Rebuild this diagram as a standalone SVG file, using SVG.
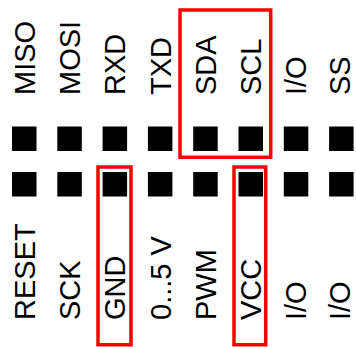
<svg xmlns="http://www.w3.org/2000/svg" width="356" height="347" viewBox="0 0 356 347">
<style>
.lbl{font-family:"Liberation Sans",Arial,sans-serif;font-size:29px;fill:#000}
.pin{fill:#000}
.hl{fill:none;stroke:#f00;stroke-width:3.5}
</style>
<rect width="356" height="347" fill="#fff"/>
<g id="pins-top">
<rect class="pin" x="12" y="126.5" width="24.5" height="24.5"/>
<rect class="pin" x="57.3" y="126.5" width="24.5" height="24.5"/>
<rect class="pin" x="102.6" y="126.5" width="24.5" height="24.5"/>
<rect class="pin" x="147.9" y="126.5" width="24.5" height="24.5"/>
<rect class="pin" x="193.2" y="126.5" width="24.5" height="24.5"/>
<rect class="pin" x="238.5" y="126.5" width="24.5" height="24.5"/>
<rect class="pin" x="283.8" y="126.5" width="24.5" height="24.5"/>
<rect class="pin" x="329.1" y="126.5" width="24.5" height="24.5"/>
</g>
<g id="pins-bottom">
<rect class="pin" x="12" y="172" width="24.5" height="24.5"/>
<rect class="pin" x="57.3" y="172" width="24.5" height="24.5"/>
<rect class="pin" x="102.6" y="172" width="24.5" height="24.5"/>
<rect class="pin" x="147.9" y="172" width="24.5" height="24.5"/>
<rect class="pin" x="193.2" y="172" width="24.5" height="24.5"/>
<rect class="pin" x="238.5" y="172" width="24.5" height="24.5"/>
<rect class="pin" x="283.8" y="172" width="24.5" height="24.5"/>
<rect class="pin" x="329.1" y="172" width="24.5" height="24.5"/>
</g>
<g id="labels-top">
<text class="lbl" transform="translate(34.6,95) rotate(-90)">MISO</text>
<text class="lbl" transform="translate(79.9,95) rotate(-90)">MOSI</text>
<text class="lbl" transform="translate(125.2,95) rotate(-90)">RXD</text>
<text class="lbl" transform="translate(170.5,95) rotate(-90)">TXD</text>
<text class="lbl" transform="translate(215.8,95) rotate(-90)">SDA</text>
<text class="lbl" transform="translate(261.1,95) rotate(-90)">SCL</text>
<text class="lbl" transform="translate(306.4,95) rotate(-90)">I/O</text>
<text class="lbl" transform="translate(349.8,95) rotate(-90)">SS</text>
</g>
<g id="labels-bottom">
<text class="lbl" transform="translate(34.6,320) rotate(-90)">RESET</text>
<text class="lbl" transform="translate(79.9,320) rotate(-90)">SCK</text>
<text class="lbl" transform="translate(125.2,320) rotate(-90)">GND</text>
<text class="lbl" transform="translate(170.5,320) rotate(-90)">0...5 V</text>
<text class="lbl" transform="translate(215.8,320) rotate(-90)">PWM</text>
<text class="lbl" transform="translate(261.1,320) rotate(-90)">VCC</text>
<text class="lbl" transform="translate(306.4,320) rotate(-90)">I/O</text>
<text class="lbl" transform="translate(349.8,320) rotate(-90)">I/O</text>
</g>
<g id="highlight-i2c"><rect class="hl" x="180" y="10" width="90.7" height="147.3"/></g>
<g id="highlight-gnd"><rect class="hl" x="98" y="167" width="33" height="177.7"/></g>
<g id="highlight-vcc"><rect class="hl" x="234" y="167" width="31.7" height="177.7"/></g>
</svg>
